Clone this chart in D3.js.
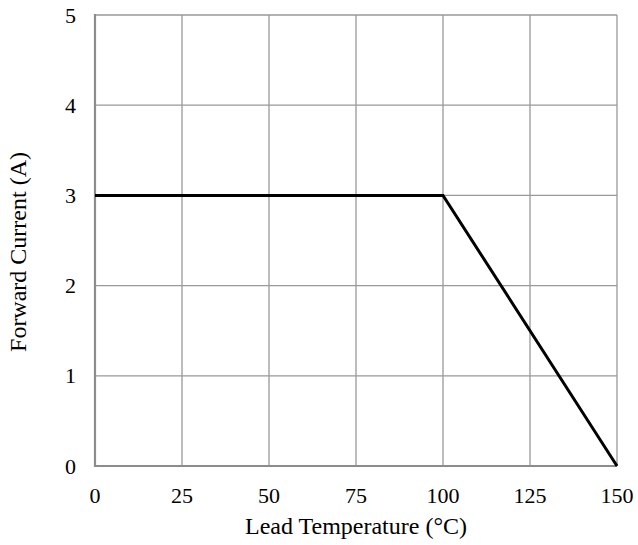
<!DOCTYPE html>
<html>
<head>
<meta charset="utf-8">
<script src="https://cdn.jsdelivr.net/npm/d3@7"></script>
<style>
  body { margin: 0; background: #fff; }
  text { font-family: "Liberation Serif", "Times New Roman", serif; fill: #000; }
</style>
</head>
<body>
<script>
(function () {

    //data
    var temps = [0, 100, 150];
    var currents = [3, 3, 0];
    var xTicks = [0, 25, 50, 75, 100, 125, 150];
    var yTicks = [0, 1, 2, 3, 4, 5];

    var width = 638,
        height = 545,
        margin = { left: 95, right: 21, top: 15, bottom: 79 };

    var svg = d3.select("body")
        .append("svg")
        .attr("width", width)
        .attr("height", height);

    var x = d3.scaleLinear().domain([0, 150]).range([margin.left, width - margin.right]);
    var y = d3.scaleLinear().domain([0, 5]).range([height - margin.bottom, margin.top]);

    //grid lines
    svg.append("g").selectAll("line")
        .data(xTicks.slice(1))
        .enter().append("line")
        .attr("x1", function (d) { return x(d); })
        .attr("x2", function (d) { return x(d); })
        .attr("y1", y(0))
        .attr("y2", y(5))
        .attr("stroke", "#999")
        .attr("stroke-width", 1.3);

    svg.append("g").selectAll("line")
        .data(yTicks.slice(1))
        .enter().append("line")
        .attr("x1", x(0))
        .attr("x2", x(150))
        .attr("y1", function (d) { return y(d); })
        .attr("y2", function (d) { return y(d); })
        .attr("stroke", "#999")
        .attr("stroke-width", 1.3);

    //axis lines
    svg.append("line")
        .attr("x1", x(0)).attr("x2", x(0))
        .attr("y1", y(0) + 1).attr("y2", y(5) - 1)
        .attr("stroke", "#8c8c8c").attr("stroke-width", 2.2);
    svg.append("line")
        .attr("x1", x(0) - 1).attr("x2", x(150))
        .attr("y1", y(0)).attr("y2", y(0))
        .attr("stroke", "#8c8c8c").attr("stroke-width", 2.2);

    //tick labels
    svg.append("g").selectAll("text")
        .data(xTicks)
        .enter().append("text")
        .attr("x", function (d) { return x(d); })
        .attr("y", y(0) + 37)
        .attr("text-anchor", "middle")
        .style("font-size", "22px")
        .text(function (d) { return d; });

    svg.append("g").selectAll("text")
        .data(yTicks)
        .enter().append("text")
        .attr("x", x(0) - 19)
        .attr("y", function (d) { return y(d) + 7.5; })
        .attr("text-anchor", "end")
        .style("font-size", "22px")
        .text(function (d) { return d; });

    //curve
    var line = d3.line()
        .x(function (d) { return x(d[0]); })
        .y(function (d) { return y(d[1]); });

    svg.append("path")
        .datum(d3.zip(temps, currents))
        .attr("d", line)
        .attr("fill", "none")
        .attr("stroke", "#000")
        .attr("stroke-width", 3);

    //axis titles
    svg.append("text")
        .attr("x", 356)
        .attr("y", 534)
        .attr("text-anchor", "middle")
        .style("font-size", "24px")
        .text("Lead Temperature (\u00B0C)");

    svg.append("text")
        .attr("transform", "translate(26,252) rotate(-90)")
        .attr("text-anchor", "middle")
        .style("font-size", "24px")
        .text("Forward Current (A)");

})();
</script>
</body>
</html>
